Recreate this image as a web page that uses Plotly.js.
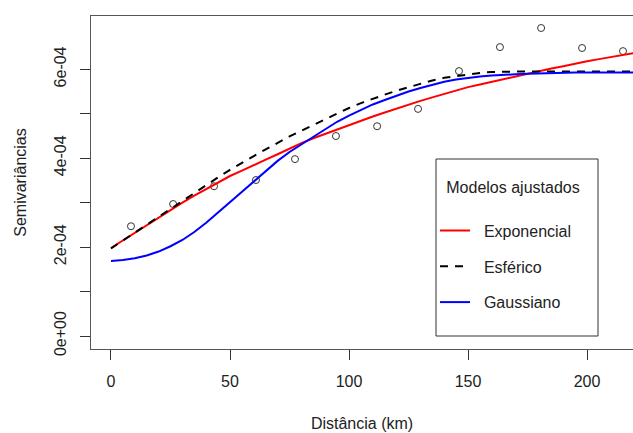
<!DOCTYPE html>
<html>
<head>
<meta charset="utf-8">
<script src="https://cdn.plot.ly/plotly-3.0.1.min.js"></script>
<style>html,body{margin:0;padding:0;background:#fff;}#chart{width:633px;height:433px;}</style>
</head>
<body>
<div id="chart"></div>
<script>
// Empirical semivariogram (distance in km, semivariance)
const lagDist = [8.4, 26.1, 43.3, 60.9, 77.3, 94.5, 111.8, 129.0, 146.2, 163.4, 180.7, 197.9, 215.1];
const lagGamma = [2.47e-4, 2.97e-4, 3.37e-4, 3.51e-4, 3.98e-4, 4.50e-4, 4.72e-4, 5.11e-4, 5.96e-4, 6.50e-4, 6.93e-4, 6.48e-4, 6.41e-4];

// Fitted model curves, every 5 km
const curveDist = [0, 5, 10, 15, 20, 25, 30, 35, 40, 45, 50, 55, 60, 65, 70, 75, 80, 85, 90, 95, 100, 105, 110, 115, 120, 125, 130, 135, 140, 145, 150, 155, 160, 165, 170, 175, 180, 185, 190, 195, 200, 205, 210, 215, 220];
const expGamma = [1.98e-4, 2.15e-4, 2.33e-4, 2.50e-4, 2.67e-4, 2.84e-4, 3.00e-4, 3.16e-4, 3.31e-4, 3.46e-4, 3.60e-4, 3.72e-4, 3.85e-4, 3.97e-4, 4.09e-4, 4.22e-4, 4.34e-4, 4.45e-4, 4.55e-4, 4.65e-4, 4.75e-4, 4.85e-4, 4.94e-4, 5.03e-4, 5.12e-4, 5.21e-4, 5.29e-4, 5.37e-4, 5.45e-4, 5.53e-4, 5.60e-4, 5.66e-4, 5.72e-4, 5.79e-4, 5.85e-4, 5.91e-4, 5.96e-4, 6.02e-4, 6.07e-4, 6.13e-4, 6.18e-4, 6.23e-4, 6.28e-4, 6.33e-4, 6.37e-4];
const sphGamma = [1.97e-4, 2.15e-4, 2.33e-4, 2.51e-4, 2.69e-4, 2.87e-4, 3.05e-4, 3.22e-4, 3.39e-4, 3.57e-4, 3.74e-4, 3.90e-4, 4.05e-4, 4.20e-4, 4.35e-4, 4.49e-4, 4.62e-4, 4.75e-4, 4.88e-4, 5.01e-4, 5.13e-4, 5.24e-4, 5.34e-4, 5.43e-4, 5.52e-4, 5.60e-4, 5.68e-4, 5.75e-4, 5.81e-4, 5.85e-4, 5.89e-4, 5.92e-4, 5.94e-4, 5.95e-4, 5.95e-4, 5.95e-4, 5.95e-4, 5.95e-4, 5.95e-4, 5.95e-4, 5.95e-4, 5.95e-4, 5.95e-4, 5.95e-4, 5.95e-4];
const gauGamma = [1.69e-4, 1.71e-4, 1.75e-4, 1.81e-4, 1.90e-4, 2.02e-4, 2.16e-4, 2.34e-4, 2.55e-4, 2.78e-4, 3.02e-4, 3.25e-4, 3.48e-4, 3.72e-4, 3.94e-4, 4.14e-4, 4.31e-4, 4.49e-4, 4.66e-4, 4.82e-4, 4.96e-4, 5.09e-4, 5.21e-4, 5.31e-4, 5.41e-4, 5.50e-4, 5.58e-4, 5.65e-4, 5.72e-4, 5.77e-4, 5.81e-4, 5.84e-4, 5.86e-4, 5.88e-4, 5.89e-4, 5.90e-4, 5.91e-4, 5.92e-4, 5.93e-4, 5.93e-4, 5.93e-4, 5.93e-4, 5.93e-4, 5.93e-4, 5.93e-4];

const modelNames = ["Exponencial", "Esférico", "Gaussiano"];
const legendTitle = "Modelos ajustados";

const xTicks = [0, 50, 100, 150, 200];
const yTickVals = [0, 1e-4, 2e-4, 3e-4, 4e-4, 5e-4, 6e-4];
const yTickText = ["0e+00", "", "2e-04", "", "4e-04", "", "6e-04"];

const FONT = "Liberation Sans, Arial, sans-serif";
const NB = "\u00A0";

// plot area in px: x 91..633, y 16..349
const px2paperX = p => (p - 91) / 542;
const px2paperY = p => (349 - p) / 333;

const traces = [
  {x: lagDist, y: lagGamma, type: "scatter", mode: "markers", showlegend: false,
   marker: {symbol: "circle-open", size: 7, color: "#333", line: {width: 1, color: "#333"}}},
  {x: curveDist, y: expGamma, type: "scatter", mode: "lines", name: NB + NB + modelNames[0], legendgroup: "a",
   line: {color: "#FF0000", width: 2}},
  {x: curveDist, y: sphGamma, type: "scatter", mode: "lines", name: NB + NB + modelNames[1], legendgroup: "b",
   line: {color: "#000000", width: 2, dash: "8px,7px"}},
  {x: curveDist, y: gauGamma, type: "scatter", mode: "lines", name: NB + NB + modelNames[2], legendgroup: "c",
   line: {color: "#0000FF", width: 2}}
];

const layout = {
  width: 633, height: 433,
  margin: {l: 91, r: 0, t: 16, b: 84, pad: 0},
  paper_bgcolor: "#fff", plot_bgcolor: "#fff",
  font: {family: FONT, size: 16, color: "#222"},
  showlegend: true,
  xaxis: {
    range: [-8.4, 219.3], tickmode: "array", tickvals: xTicks,
    ticks: "outside", ticklen: 10, tickcolor: "#333", tickwidth: 1,
    ticklabelstandoff: 8,
    showgrid: false, zeroline: false, showline: true, mirror: true, linecolor: "#555", linewidth: 1,
    title: {text: "Distância (km)", font: {size: 16, color: "#222"}, standoff: 28},
    automargin: false
  },
  yaxis: {
    range: [-2.92e-5, 7.2e-4], tickmode: "array", tickvals: yTickVals, ticktext: yTickText,
    tickangle: -90,
    ticks: "outside", ticklen: 10, tickcolor: "#333", tickwidth: 1,
    ticklabelstandoff: 8,
    showgrid: false, zeroline: false, showline: true, mirror: false, linecolor: "#555", linewidth: 1,
    title: {text: "Semivariâncias", font: {size: 16, color: "#222"}, standoff: 20},
    automargin: false
  },
  shapes: [{
    type: "rect", xref: "paper", yref: "paper", layer: "above",
    x0: px2paperX(436), x1: px2paperX(598), y0: px2paperY(336), y1: px2paperY(159),
    line: {color: "#333", width: 1}, fillcolor: "#fff"
  }],
  legend: {
    x: px2paperX(435), y: px2paperY(172), xanchor: "left", yanchor: "top",
    bgcolor: "rgba(0,0,0,0)", borderwidth: 0,
    font: {family: FONT, size: 16, color: "#222"},
    title: {text: NB + NB + legendTitle + NB + NB + "<br>" + NB, side: "top center", font: {family: FONT, size: 16, color: "#222"}},
    tracegroupgap: 12, itemwidth: 30
  }
};

Plotly.newPlot("chart", traces, layout, {displayModeBar: false, staticPlot: true});
</script>
</body>
</html>
